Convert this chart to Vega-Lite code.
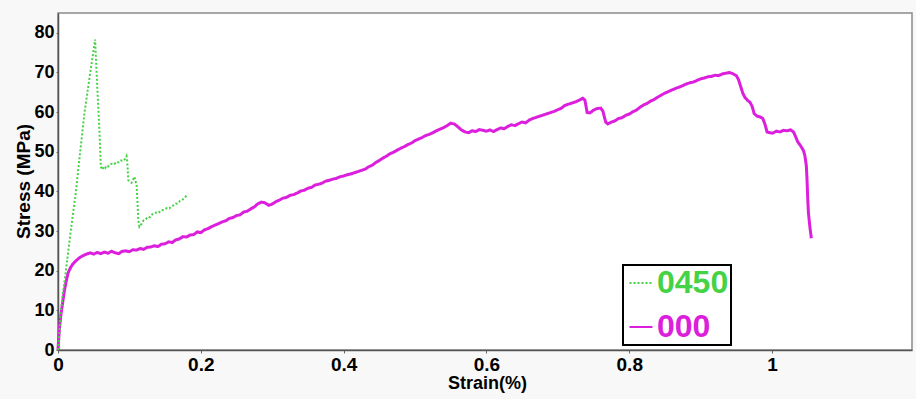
{
  "$schema": "https://vega.github.io/schema/vega-lite/v6.json",
  "width": 854,
  "height": 337,
  "autosize": {"type": "none"},
  "padding": {"left": 58, "top": 13, "right": 4, "bottom": 49},
  "background": "#f8f8f8",
  "config": {"view": {"fill": "white", "stroke": "#8a8a8a", "strokeWidth": 1.5}},
  "datasets": {
    "m": [
      {"strain":0,"stress":0},{"strain":0.001,"stress":3},{"strain":0.002,"stress":5.5},{"strain":0.004,"stress":8.8},{"strain":0.007,"stress":12.6},{"strain":0.009,"stress":15},{"strain":0.011,"stress":16.9},{"strain":0.014,"stress":19.4},{"strain":0.017,"stress":20.6},{"strain":0.020,"stress":21.5},{"strain":0.024,"stress":22.3},{"strain":0.027,"stress":22.8},{"strain":0.031,"stress":23.4},{"strain":0.035,"stress":23.8},{"strain":0.040,"stress":24.2},{"strain":0.045,"stress":24.5},{"strain":0.050,"stress":24.2},{"strain":0.055,"stress":24.6},{"strain":0.060,"stress":24.3},{"strain":0.065,"stress":24.7},{"strain":0.070,"stress":24.4},{"strain":0.075,"stress":24.9},{"strain":0.080,"stress":24.5},{"strain":0.085,"stress":24.3},{"strain":0.090,"stress":24.9},{"strain":0.095,"stress":25.0},{"strain":0.100,"stress":24.8},{"strain":0.105,"stress":25.3},{"strain":0.110,"stress":25.2},{"strain":0.115,"stress":25.6},{"strain":0.120,"stress":25.4},{"strain":0.125,"stress":25.9},{"strain":0.130,"stress":26.0},{"strain":0.135,"stress":26.3},{"strain":0.140,"stress":26.1},{"strain":0.145,"stress":26.7},{"strain":0.150,"stress":26.8},{"strain":0.155,"stress":27.3},{"strain":0.160,"stress":27.1},{"strain":0.165,"stress":27.8},{"strain":0.170,"stress":28.0},{"strain":0.175,"stress":28.6},{"strain":0.180,"stress":28.5},{"strain":0.185,"stress":29.0},{"strain":0.190,"stress":29.1},{"strain":0.195,"stress":29.8},{"strain":0.200,"stress":29.6},{"strain":0.205,"stress":30.3},{"strain":0.210,"stress":30.6},{"strain":0.215,"stress":31.1},{"strain":0.220,"stress":31.5},{"strain":0.225,"stress":31.9},{"strain":0.230,"stress":32.3},{"strain":0.235,"stress":32.6},{"strain":0.240,"stress":33.2},{"strain":0.245,"stress":33.4},{"strain":0.250,"stress":33.9},{"strain":0.255,"stress":34.1},{"strain":0.260,"stress":34.8},{"strain":0.265,"stress":35.0},{"strain":0.270,"stress":35.6},{"strain":0.275,"stress":36.1},{"strain":0.280,"stress":36.9},{"strain":0.285,"stress":37.3},{"strain":0.290,"stress":37.1},{"strain":0.295,"stress":36.5},{"strain":0.300,"stress":36.8},{"strain":0.305,"stress":37.4},{"strain":0.310,"stress":37.8},{"strain":0.315,"stress":38.3},{"strain":0.320,"stress":38.5},{"strain":0.325,"stress":39.0},{"strain":0.330,"stress":39.2},{"strain":0.335,"stress":39.6},{"strain":0.340,"stress":40.1},{"strain":0.345,"stress":40.3},{"strain":0.350,"stress":40.8},{"strain":0.355,"stress":41.0},{"strain":0.360,"stress":41.6},{"strain":0.365,"stress":41.8},{"strain":0.370,"stress":42.1},{"strain":0.375,"stress":42.6},{"strain":0.380,"stress":42.8},{"strain":0.385,"stress":43.1},{"strain":0.390,"stress":43.3},{"strain":0.395,"stress":43.7},{"strain":0.400,"stress":43.9},{"strain":0.405,"stress":44.2},{"strain":0.410,"stress":44.4},{"strain":0.415,"stress":44.7},{"strain":0.420,"stress":45.0},{"strain":0.425,"stress":45.3},{"strain":0.430,"stress":45.6},{"strain":0.435,"stress":46.2},{"strain":0.440,"stress":46.6},{"strain":0.445,"stress":47.3},{"strain":0.450,"stress":47.8},{"strain":0.455,"stress":48.4},{"strain":0.460,"stress":48.9},{"strain":0.465,"stress":49.5},{"strain":0.470,"stress":49.9},{"strain":0.475,"stress":50.4},{"strain":0.480,"stress":50.9},{"strain":0.485,"stress":51.3},{"strain":0.490,"stress":51.8},{"strain":0.495,"stress":52.2},{"strain":0.500,"stress":52.8},{"strain":0.505,"stress":53.2},{"strain":0.510,"stress":53.6},{"strain":0.515,"stress":54.1},{"strain":0.520,"stress":54.4},{"strain":0.525,"stress":54.8},{"strain":0.530,"stress":55.3},{"strain":0.535,"stress":55.7},{"strain":0.540,"stress":56.1},{"strain":0.545,"stress":56.6},{"strain":0.550,"stress":57.2},{"strain":0.555,"stress":57.0},{"strain":0.560,"stress":56.3},{"strain":0.565,"stress":55.5},{"strain":0.570,"stress":55.0},{"strain":0.575,"stress":54.8},{"strain":0.580,"stress":55.3},{"strain":0.585,"stress":55.1},{"strain":0.590,"stress":55.6},{"strain":0.595,"stress":55.4},{"strain":0.600,"stress":55.2},{"strain":0.605,"stress":55.5},{"strain":0.610,"stress":55.1},{"strain":0.615,"stress":55.6},{"strain":0.620,"stress":56.0},{"strain":0.625,"stress":55.8},{"strain":0.630,"stress":56.4},{"strain":0.635,"stress":56.8},{"strain":0.640,"stress":56.6},{"strain":0.645,"stress":57.1},{"strain":0.650,"stress":57.5},{"strain":0.655,"stress":57.3},{"strain":0.660,"stress":58.0},{"strain":0.665,"stress":58.4},{"strain":0.670,"stress":58.7},{"strain":0.675,"stress":59.0},{"strain":0.680,"stress":59.3},{"strain":0.685,"stress":59.6},{"strain":0.690,"stress":59.9},{"strain":0.695,"stress":60.2},{"strain":0.700,"stress":60.6},{"strain":0.705,"stress":61.0},{"strain":0.710,"stress":61.7},{"strain":0.715,"stress":62.0},{"strain":0.720,"stress":62.3},{"strain":0.725,"stress":62.6},{"strain":0.730,"stress":63.0},{"strain":0.735,"stress":63.5},{"strain":0.738,"stress":63.0},{"strain":0.741,"stress":59.9},{"strain":0.745,"stress":59.8},{"strain":0.750,"stress":60.5},{"strain":0.755,"stress":60.9},{"strain":0.760,"stress":61.0},{"strain":0.763,"stress":60.3},{"strain":0.767,"stress":57.5},{"strain":0.770,"stress":57.0},{"strain":0.775,"stress":57.5},{"strain":0.780,"stress":57.8},{"strain":0.785,"stress":58.4},{"strain":0.790,"stress":58.6},{"strain":0.795,"stress":59.2},{"strain":0.800,"stress":59.5},{"strain":0.805,"stress":60.1},{"strain":0.810,"stress":60.5},{"strain":0.815,"stress":61.2},{"strain":0.820,"stress":61.8},{"strain":0.825,"stress":62.2},{"strain":0.830,"stress":62.8},{"strain":0.835,"stress":63.2},{"strain":0.840,"stress":63.8},{"strain":0.845,"stress":64.3},{"strain":0.850,"stress":64.8},{"strain":0.855,"stress":65.2},{"strain":0.860,"stress":65.6},{"strain":0.865,"stress":66.0},{"strain":0.870,"stress":66.3},{"strain":0.875,"stress":66.7},{"strain":0.880,"stress":67.1},{"strain":0.885,"stress":67.4},{"strain":0.890,"stress":67.6},{"strain":0.895,"stress":68.0},{"strain":0.900,"stress":68.4},{"strain":0.905,"stress":68.6},{"strain":0.910,"stress":68.9},{"strain":0.915,"stress":69.0},{"strain":0.920,"stress":69.3},{"strain":0.925,"stress":69.2},{"strain":0.930,"stress":69.6},{"strain":0.935,"stress":69.8},{"strain":0.940,"stress":70.0},{"strain":0.945,"stress":69.7},{"strain":0.950,"stress":69.2},{"strain":0.953,"stress":68.2},{"strain":0.956,"stress":66.5},{"strain":0.959,"stress":64.8},{"strain":0.962,"stress":63.7},{"strain":0.966,"stress":62.9},{"strain":0.969,"stress":62.5},{"strain":0.972,"stress":61.5},{"strain":0.975,"stress":59.6},{"strain":0.979,"stress":59.0},{"strain":0.983,"stress":58.8},{"strain":0.987,"stress":58.4},{"strain":0.990,"stress":57.0},{"strain":0.993,"stress":55.0},{"strain":0.997,"stress":54.8},{"strain":1.001,"stress":54.7},{"strain":1.006,"stress":55.2},{"strain":1.011,"stress":55.0},{"strain":1.016,"stress":55.4},{"strain":1.021,"stress":55.3},{"strain":1.026,"stress":55.5},{"strain":1.030,"stress":55.0},{"strain":1.033,"stress":53.8},{"strain":1.036,"stress":52.5},{"strain":1.040,"stress":51.5},{"strain":1.044,"stress":50.3},{"strain":1.046,"stress":49.0},{"strain":1.048,"stress":46.5},{"strain":1.049,"stress":43.0},{"strain":1.050,"stress":38.0},{"strain":1.051,"stress":34.5},{"strain":1.053,"stress":31.0},{"strain":1.055,"stress":28.2}
    ],
    "g": [
      {"strain":0,"stress":0},{"strain":0.002,"stress":4},{"strain":0.003,"stress":7.5},{"strain":0.006,"stress":13},{"strain":0.011,"stress":20},{"strain":0.018,"stress":30.2},{"strain":0.025,"stress":39.8},{"strain":0.031,"stress":49.9},{"strain":0.037,"stress":59.7},{"strain":0.045,"stress":69.8},{"strain":0.052,"stress":78.3},{"strain":0.053,"stress":74},{"strain":0.055,"stress":66.3},{"strain":0.058,"stress":55.4},{"strain":0.060,"stress":46.2},{"strain":0.062,"stress":45.5},{"strain":0.064,"stress":46.2},{"strain":0.066,"stress":45.9},{"strain":0.068,"stress":46.5},{"strain":0.070,"stress":46.3},{"strain":0.073,"stress":46.8},{"strain":0.076,"stress":47.0},{"strain":0.079,"stress":46.9},{"strain":0.082,"stress":47.5},{"strain":0.085,"stress":47.3},{"strain":0.088,"stress":47.8},{"strain":0.091,"stress":47.7},{"strain":0.094,"stress":48.2},{"strain":0.096,"stress":48.9},{"strain":0.097,"stress":47.5},{"strain":0.0985,"stress":42.8},{"strain":0.100,"stress":42.6},{"strain":0.103,"stress":42.2},{"strain":0.105,"stress":42.9},{"strain":0.107,"stress":43.7},{"strain":0.109,"stress":42.3},{"strain":0.110,"stress":42.0},{"strain":0.1125,"stress":32.7},{"strain":0.114,"stress":31.1},{"strain":0.117,"stress":31.8},{"strain":0.120,"stress":32.7},{"strain":0.123,"stress":33.0},{"strain":0.126,"stress":33.6},{"strain":0.129,"stress":33.5},{"strain":0.132,"stress":34.2},{"strain":0.135,"stress":34.4},{"strain":0.138,"stress":34.7},{"strain":0.141,"stress":34.6},{"strain":0.144,"stress":35.2},{"strain":0.147,"stress":35.3},{"strain":0.150,"stress":35.6},{"strain":0.153,"stress":35.8},{"strain":0.156,"stress":35.7},{"strain":0.159,"stress":36.3},{"strain":0.162,"stress":36.5},{"strain":0.165,"stress":36.9},{"strain":0.168,"stress":37.0},{"strain":0.171,"stress":37.6},{"strain":0.174,"stress":37.8},{"strain":0.177,"stress":38.4},{"strain":0.180,"stress":38.9}
    ]
  },
  "encoding": {
    "x": {
      "field": "strain", "type": "quantitative",
      "scale": {"domain": [0, 1.196], "nice": false, "zero": false},
      "axis": {
        "title": "Strain(%)", "values": [0, 0.2, 0.4, 0.6, 0.8, 1], "format": ".1~f",
        "grid": false, "labelFlush": false,
        "labelFont": "Liberation Sans", "labelFontSize": 19, "labelFontWeight": "bold", "labelColor": "black", "labelPadding": 2,
        "tickSize": 3, "tickColor": "#666", "domainColor": "#555", "domainWidth": 1.5,
        "titleFont": "Liberation Sans", "titleFontSize": 18, "titleFontWeight": "bold", "titleColor": "black",
        "titleX": 429, "titleY": 33, "titleBaseline": "middle", "titleAlign": "center"
      }
    },
    "y": {
      "field": "stress", "type": "quantitative",
      "scale": {"domain": [0, 85], "nice": false},
      "axis": {
        "title": "Stress (MPa)", "values": [0, 10, 20, 30, 40, 50, 60, 70, 80],
        "grid": false, "labelFlush": false,
        "labelFont": "Liberation Sans", "labelFontSize": 18, "labelFontWeight": "bold", "labelColor": "black", "labelPadding": 2,
        "tickSize": 2, "tickColor": "#666", "domainColor": "#555", "domainWidth": 1.5,
        "titleFont": "Liberation Sans", "titleFontSize": 19, "titleFontWeight": "bold", "titleColor": "black",
        "titleX": -35, "titleY": 168, "titleBaseline": "middle", "titleAlign": "center"
      }
    }
  },
  "layer": [
    {
      "data": {"name": "m"},
      "mark": {"type": "line", "strokeWidth": 3},
      "encoding": {
        "color": {"datum": "000", "type": "nominal", "scale": {"domain": ["0450", "000"], "range": ["#45d245", "#dc1fdc"]},
          "legend": {"title": null, "orient": "none", "legendX": 565, "legendY": 252, "direction": "vertical",
            "fillColor": "white", "strokeColor": "black", "padding": 2,
            "symbolType": "stroke", "symbolSize": 529, "symbolStrokeWidth": 2,
            "labelFont": "Liberation Sans", "labelFontSize": 32, "labelFontWeight": "bold", "labelOffset": 0, "rowPadding": 12, "labelLimit": 200,
            "encode": {"labels": {"update": {"fill": {"signal": "datum.value === '0450' ? '#45d245' : '#dc1fdc'"}}}, "legend": {"update": {"strokeWidth": {"value": 2}}}}}},
        "strokeDash": {"datum": "000", "type": "nominal", "scale": {"domain": ["0450", "000"], "range": [[2, 2], [1, 0]]},
          "legend": {"title": null, "orient": "none", "legendX": 565, "legendY": 252, "direction": "vertical",
            "fillColor": "white", "strokeColor": "black", "padding": 2,
            "symbolType": "stroke", "symbolSize": 529, "symbolStrokeWidth": 2,
            "labelFont": "Liberation Sans", "labelFontSize": 32, "labelFontWeight": "bold", "labelOffset": 0, "rowPadding": 12, "labelLimit": 200,
            "encode": {"labels": {"update": {"fill": {"signal": "datum.value === '0450' ? '#45d245' : '#dc1fdc'"}}}, "legend": {"update": {"strokeWidth": {"value": 2}}}}}}
      }
    },
    {
      "data": {"name": "g"},
      "mark": {"type": "line", "strokeWidth": 2},
      "encoding": {
        "color": {"datum": "0450", "type": "nominal"},
        "strokeDash": {"datum": "0450", "type": "nominal"}
      }
    }
  ]
}
